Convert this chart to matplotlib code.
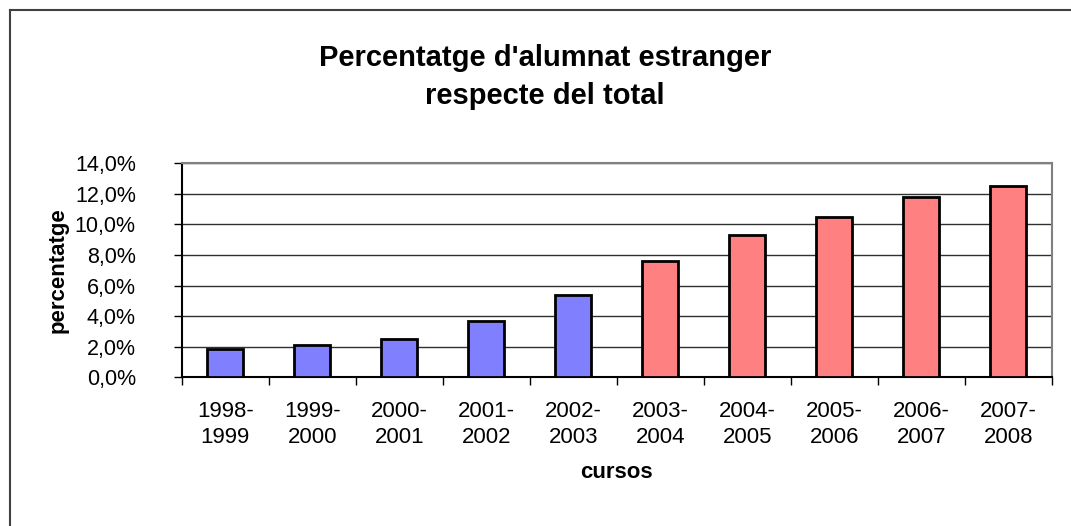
import matplotlib
matplotlib.use("Agg")
import matplotlib.pyplot as plt
from matplotlib.ticker import FixedLocator, FuncFormatter, MultipleLocator
import numpy as np

plt.rcParams['font.family'] = ['Liberation Sans', 'DejaVu Sans']

cursos = ["1998-\n1999", "1999-\n2000", "2000-\n2001", "2001-\n2002", "2002-\n2003",
          "2003-\n2004", "2004-\n2005", "2005-\n2006", "2006-\n2007", "2007-\n2008"]
percentatge = [1.83, 2.11, 2.52, 3.70, 5.40, 7.61, 9.31, 10.50, 11.79, 12.53]
colors = ["#8080FF"] * 5 + ["#FF8080"] * 5

W, H = 1071, 526
fig = plt.figure(figsize=(W / 100, H / 100), dpi=100)
# outer chart border (left/top visible)
fig.add_artist(plt.Line2D([10 / W, 10 / W], [0, 1 - 10 / H], color="#404040", lw=1.5))
fig.add_artist(plt.Line2D([10 / W, 1], [1 - 10 / H, 1 - 10 / H], color="#404040", lw=1.5))

ax = fig.add_axes([181.7 / W, 1 - 377.3 / H, (1051.7 - 181.7) / W, (377.3 - 163.3) / H])
x = np.arange(len(cursos))
ax.bar(x, percentatge, width=0.41, color=colors, edgecolor="black", linewidth=2, zorder=3)
ax.set_xlim(-0.5, len(cursos) - 0.5)
ax.set_ylim(0, 14)
ax.yaxis.set_major_locator(MultipleLocator(2))
ax.yaxis.set_major_formatter(FuncFormatter(lambda v, p: f"{v:.1f}%".replace(".", ",")))
ax.grid(axis="y", color="#303030", linewidth=1, zorder=0)
ax.set_xticks(x)
ax.set_xticklabels(cursos, fontsize=16, linespacing=1.3)
ax.xaxis.set_minor_locator(FixedLocator(np.arange(-0.5, len(cursos), 1.0)))
ax.tick_params(axis="x", which="major", length=0, pad=17)
ax.tick_params(axis="x", which="minor", length=6, width=1, direction="out", color="black")
ax.tick_params(axis="y", length=6, width=1, direction="out", labelsize=15.5, pad=27)
for s in ["top", "right"]:
    ax.spines[s].set_color("#808080")
    ax.spines[s].set_linewidth(1.5)
for s in ["left", "bottom"]:
    ax.spines[s].set_color("black")
    ax.spines[s].set_linewidth(1.5)

fig.text(545 / W, 1 - 77 / H, "Percentatge d'alumnat estranger\nrespecte del total",
         ha="center", va="center", fontsize=21, fontweight="bold", linespacing=1.42)
fig.text(58 / W, 1 - 270 / H, "percentatge", rotation=90, ha="center", va="center",
         fontsize=16, fontweight="bold")
fig.text(616 / W, 1 - 473 / H, "cursos", ha="center", va="center",
         fontsize=16, fontweight="bold")

fig.savefig("out.png", dpi=100)
